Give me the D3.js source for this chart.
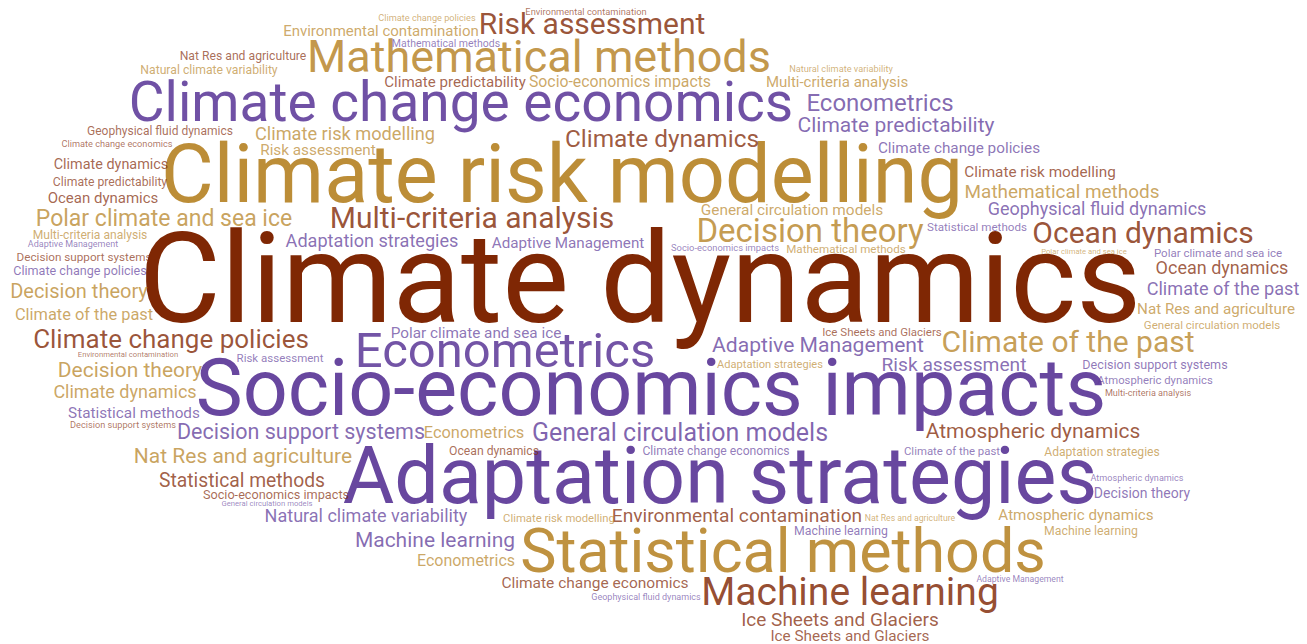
<!DOCTYPE html>
<html>
<head>
<meta charset="utf-8">
<script src="https://cdn.jsdelivr.net/npm/d3@7"></script>
<style>
  html, body { margin: 0; padding: 0; background: #ffffff; }
  svg { display: block; }
</style>
</head>
<body>
<svg id="chart" width="1307" height="644"></svg>
<script>
// ---- data: word, weight (font size units), group ----
const words = [
  "Climate dynamics","Climate risk modelling","Socio-economics impacts","Adaptation strategies",
  "Climate change economics","Mathematical methods","Statistical methods","Econometrics",
  "Machine learning","Risk assessment","Multi-criteria analysis","Decision theory",
  "Climate of the past","Ocean dynamics","Climate change policies","Polar climate and sea ice",
  "Decision theory","Climate of the past","Decision theory","Climate dynamics",
  "Statistical methods","Decision support systems","Decision support systems","Nat Res and agriculture",
  "Statistical methods","Socio-economics impacts","General circulation models","Natural climate variability",
  "Machine learning","Econometrics","Climate change economics","Geophysical fluid dynamics",
  "Ice Sheets and Glaciers","Ice Sheets and Glaciers","Environmental contamination","Climate risk modelling",
  "Nat Res and agriculture","Machine learning","Adaptive Management","Machine learning",
  "Atmospheric dynamics","Decision theory","Atmospheric dynamics","Adaptation strategies",
  "Atmospheric dynamics","Climate of the past","Climate change economics","Ocean dynamics",
  "Econometrics","General circulation models","Risk assessment","Adaptation strategies",
  "Adaptive Management","Ice Sheets and Glaciers","Polar climate and sea ice","Adaptation strategies",
  "Adaptive Management","Socio-economics impacts","Mathematical methods","General circulation models",
  "Statistical methods","Geophysical fluid dynamics","Mathematical methods","Climate risk modelling",
  "Climate change policies","Climate predictability","Econometrics","Multi-criteria analysis",
  "Natural climate variability","Socio-economics impacts","Climate predictability","Climate dynamics",
  "Mathematical methods","Environmental contamination","Climate change policies","Environmental contamination",
  "Nat Res and agriculture","Natural climate variability","Geophysical fluid dynamics","Climate change economics",
  "Climate dynamics","Climate predictability","Ocean dynamics","Climate risk modelling",
  "Risk assessment","Multi-criteria analysis","Adaptive Management","Decision support systems",
  "Climate change policies","Environmental contamination","Risk assessment","Polar climate and sea ice",
  "Polar climate and sea ice","Ocean dynamics","Climate of the past","Nat Res and agriculture",
  "General circulation models","Decision support systems","Atmospheric dynamics","Multi-criteria analysis"
];

const weights = [
  126, 81, 79, 79,
  55, 45, 61, 49,
  39, 30, 30, 33,
  30, 30, 26, 23,
  20, 16.4, 21, 18,
  15.3, 9.2, 21.5, 21,
  19.3, 12.7, 7.7, 18,
  21, 16, 15.5, 9,
  19, 15.3, 19.2, 11.3,
  8.7, 12.3, 8.7, 12.3,
  15.2, 14, 9.1, 12.1,
  21, 11.4, 12.2, 12.2,
  16.4, 25, 19.2, 11.1,
  21.1, 11.5, 15.3, 18.1,
  15.2, 9.4, 11.6, 15.4,
  11.6, 18, 18.9, 15.3,
  15.3, 21, 24, 15,
  9.2, 15.8, 15.1, 24.4,
  10.5, 15, 9.2, 9.3,
  12.2, 12.2, 12, 9.2,
  14.4, 12.2, 15, 18.2,
  15.3, 12.1, 9, 11.7,
  12.6, 7.7, 11.5, 7.7,
  11.5, 18, 18.1, 15.2,
  11.5, 12.6, 11.3, 9.1
];

// 0 = brown, 1 = gold, 2 = purple
const groups = [
  0,1,2,2, 2,1,1,2, 0,0,0,1, 1,0,0,1,
  1,1,1,1, 2,0,2,1, 0,0,2,2, 2,1,0,2,
  0,0,0,1, 1,2,2,1, 1,2,2,1, 0,2,2,0,
  1,2,2,1, 2,0,2,2, 2,2,1,1, 2,2,1,0,
  2,2,2,1, 1,1,0,0, 2,1,1,0, 0,1,0,0,
  0,0,0,1, 1,1,2,0, 2,0,2,1, 2,0,2,1,
  1,2,2,0
];

// ---- layout: word centre x and baseline y in cloud units ----
const layoutX = [
  640,562,651,720, 461,539,783,505, 850,592,472,810, 1068,1143,171,164,
  79,84,130,125, 134,123,301,243, 242,276,267,366, 435,466,595,646,
  840,850,737,559, 910,841,1020,1091, 1076,1142,1137,1102, 1033,952,716,494,
  474,680,954,770, 818,882,476,372, 568,725,846,792, 977,1097,1062,1040,
  959,896,880,837, 841,620,455,662, 446,381,427,586, 243,209,160,117,
  111,110,103,345, 318,90,73,84, 80,128,280,1084, 1218,1222,1223,1216,
  1212,1155,1155,1148
];
const layoutY = [
  322,202,415,503, 121,72,572,367, 605,34,228,242, 352,243,348,226,
  298,320,377,398, 418,428,439,463, 487,499,506,522, 547,566,588,600,
  626,641,522,522, 521,535,582,535, 520,498,481,456, 438,455,455,455,
  438,441,371,368, 352,336,338,247, 248,251,253,215, 231,215,198,177,
  153,132,111,87, 72,87,87,147, 47,36,21,15, 60,74,135,147,
  169,186,203,140, 155,239,247,261, 275,357,362,254, 257,274,295,314,
  329,369,384,396
];

const palette = ["#7f2704", "#b8862b", "#5e3b99"];

const W = 1307, H = 644;
const svg = d3.select("#chart");

const x = d3.scaleLinear().domain([0, 1307]).range([0, W]);
const y = d3.scaleLinear().domain([0, 644]).range([0, H]);
const fontSize = d3.scaleLinear().domain([d3.min(weights), d3.max(weights)])
                   .range([d3.min(weights), d3.max(weights)]);
const opacity = d3.scaleLog().domain([d3.min(weights), d3.max(weights)]).range([0.62, 1]);
const color = d3.scaleOrdinal().domain([0, 1, 2]).range(palette);

const data = words.map((w, i) => ({
  text: w, weight: weights[i], group: groups[i], cx: layoutX[i], cy: layoutY[i]
}));

svg.append("g")
  .selectAll("text")
  .data(data)
  .join("text")
  .attr("x", d => x(d.cx))
  .attr("y", d => y(d.cy))
  .attr("text-anchor", "middle")
  .attr("font-family", "Roboto, 'Open Sans', sans-serif")
  .attr("font-size", d => fontSize(d.weight) + "px")
  .attr("fill", d => color(d.group))
  .attr("fill-opacity", d => opacity(d.weight))
  .text(d => d.text);
</script>
</body>
</html>
